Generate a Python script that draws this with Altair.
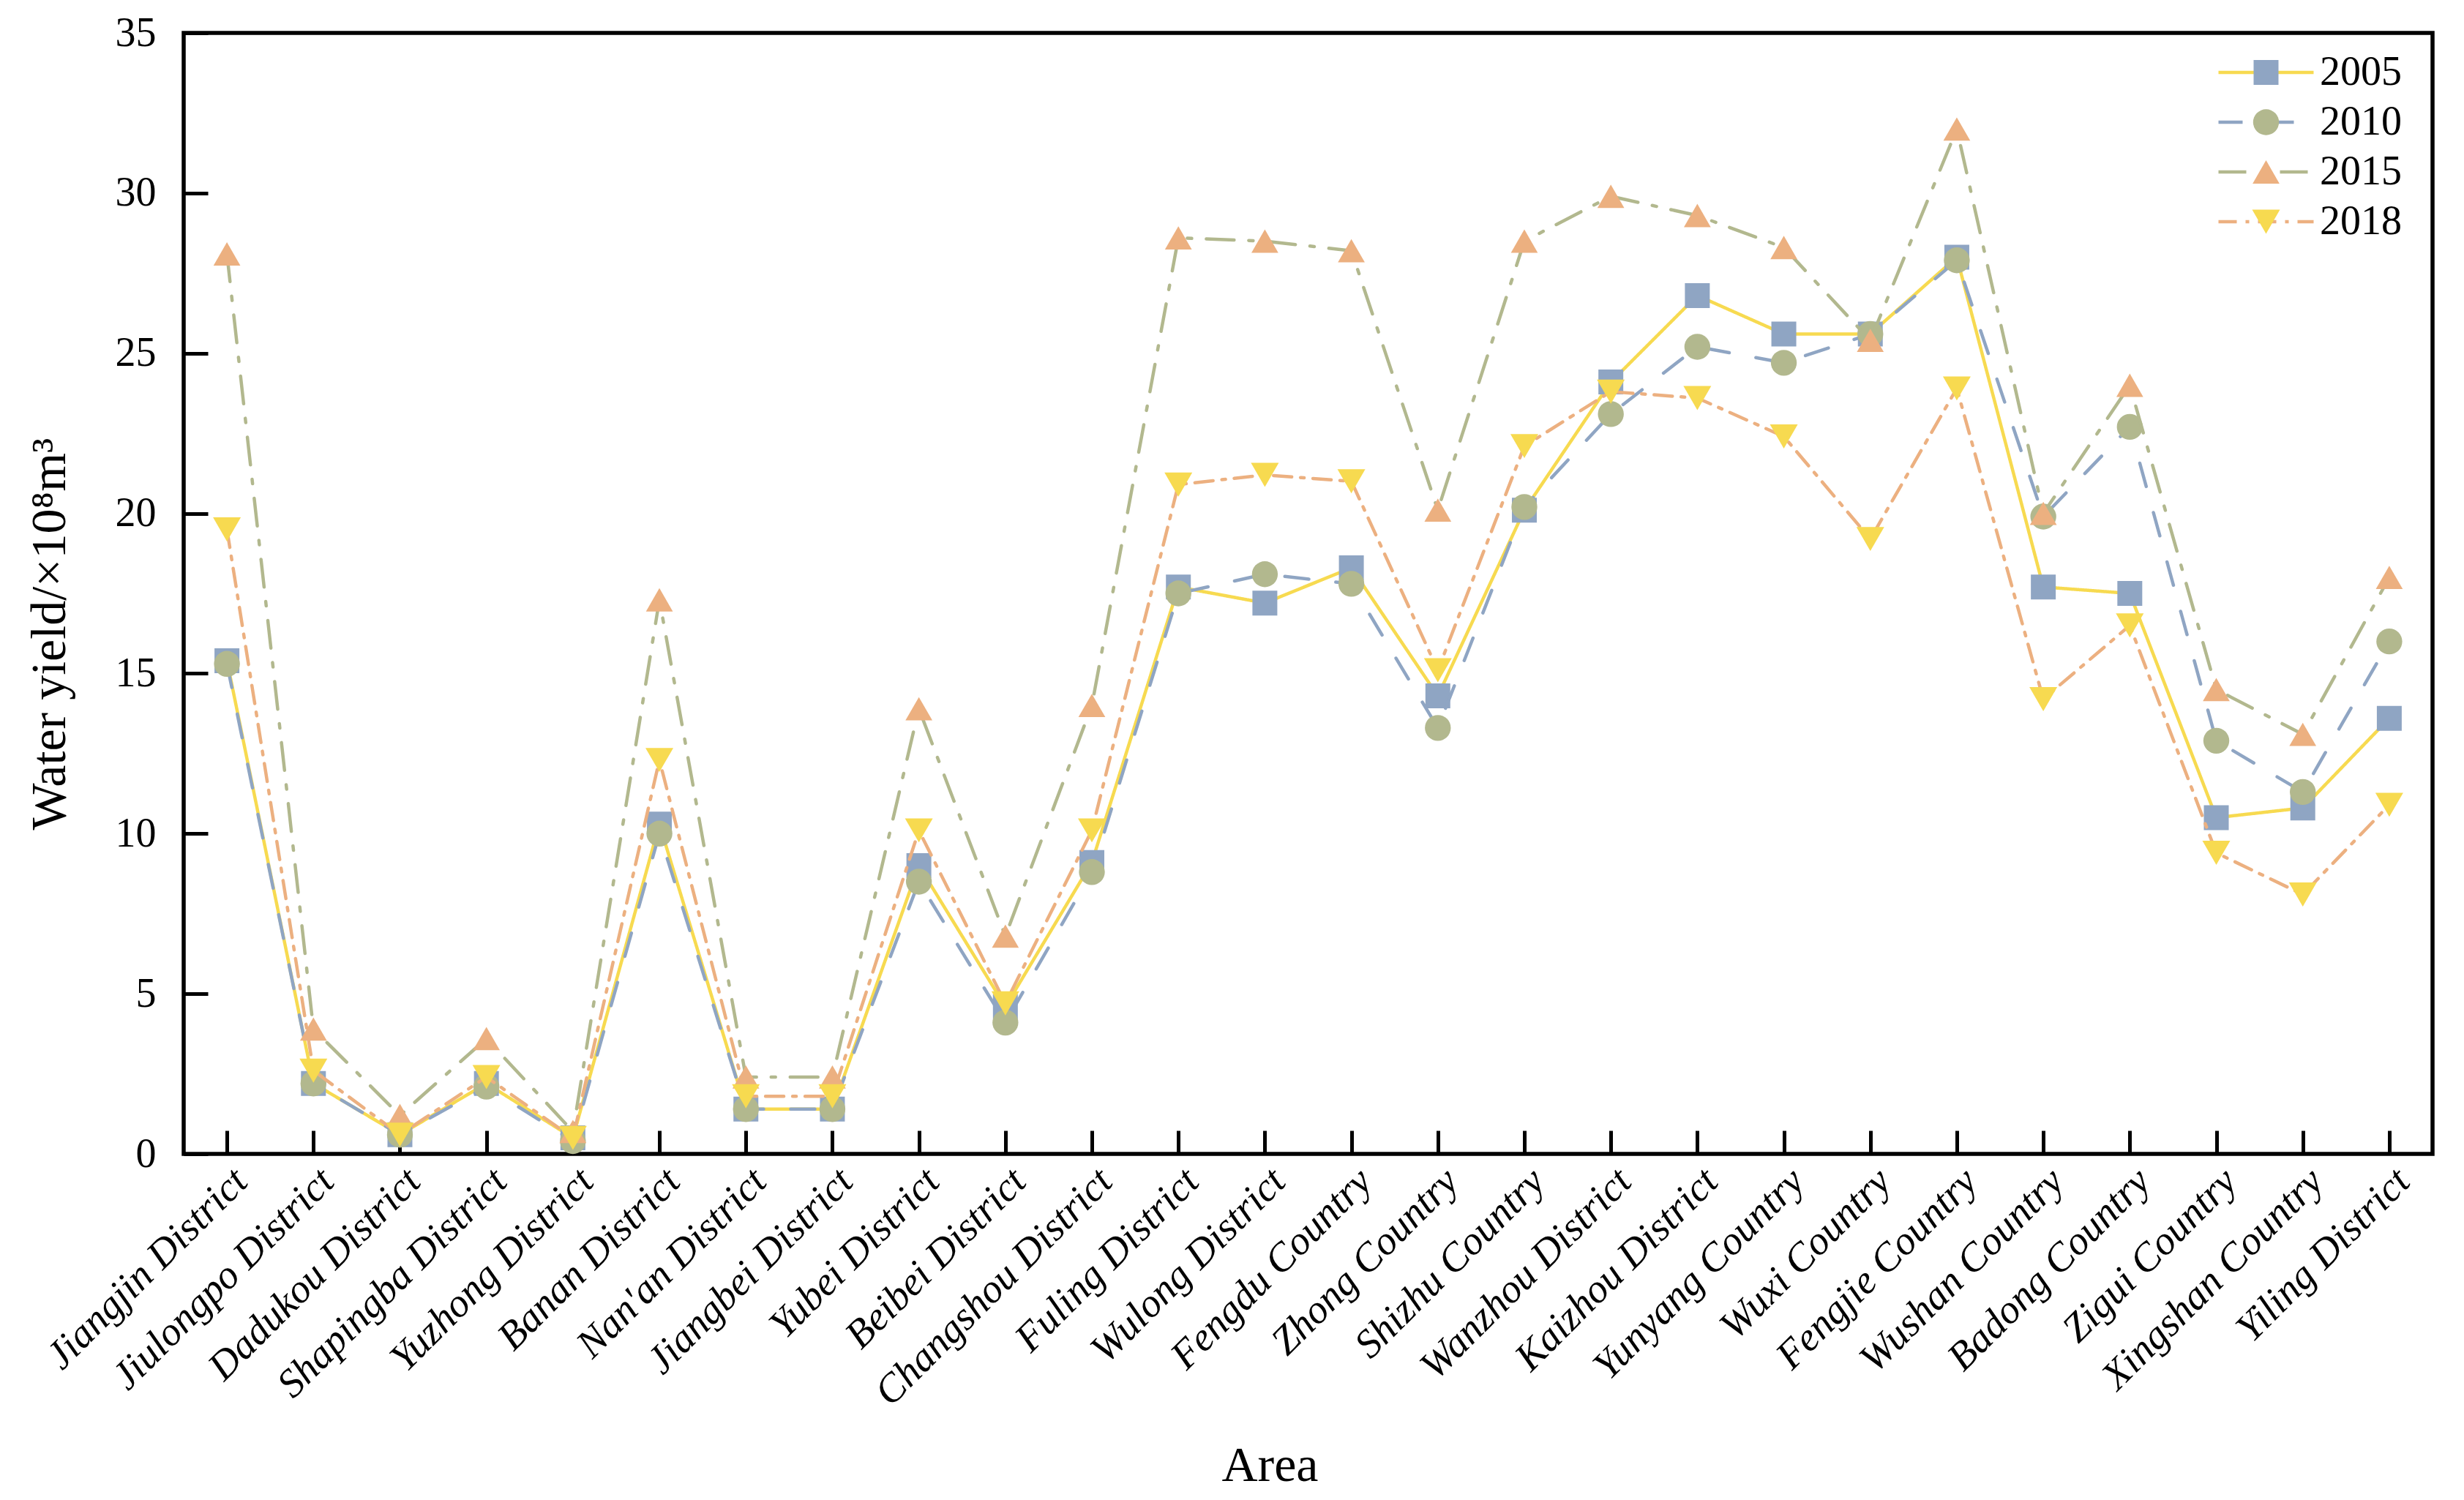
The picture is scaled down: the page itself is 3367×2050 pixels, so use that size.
import altair as alt
import pandas as pd

areas = ["Jiangjin District", "Jiulongpo District", "Dadukou District", "Shapingba District",
         "Yuzhong District", "Banan District", "Nan'an District", "Jiangbei District",
         "Yubei District", "Beibei District", "Changshou District", "Fuling District",
         "Wulong District", "Fengdu Country", "Zhong Country", "Shizhu Country",
         "Wanzhou District", "Kaizhou District", "Yunyang Country", "Wuxi Country",
         "Fengjie Country", "Wushan Country", "Badong Country", "Zigui Country",
         "Xingshan Country", "Yiling District"]
years = ["2005", "2010", "2015", "2018"]
v2005 = [15.4, 2.2, 0.6, 2.2, 0.5, 10.3, 1.4, 1.4, 9.0, 4.6, 9.1, 17.7, 17.2, 18.3, 14.3,
         20.1, 24.1, 26.8, 25.6, 25.6, 28.0, 17.7, 17.5, 10.5, 10.8, 13.6]
v2010 = [15.3, 2.2, 0.6, 2.1, 0.4, 10.0, 1.4, 1.4, 8.5, 4.1, 8.8, 17.5, 18.1, 17.8, 13.3,
         20.2, 23.1, 25.2, 24.7, 25.6, 27.9, 19.9, 22.7, 12.9, 11.3, 16.0]
v2015 = [28.1, 3.9, 1.2, 3.6, 0.7, 17.3, 2.4, 2.4, 13.9, 6.8, 14.0, 28.6, 28.5, 28.2, 20.1,
         28.5, 29.9, 29.3, 28.3, 25.4, 32.0, 20.0, 24.0, 14.5, 13.1, 18.0]
v2018 = [19.5, 2.6, 0.6, 2.4, 0.5, 12.3, 1.8, 1.8, 10.1, 4.7, 10.1, 20.9, 21.2, 21.0, 15.1,
         22.1, 23.8, 23.6, 22.4, 19.2, 23.9, 14.2, 16.5, 9.4, 8.1, 10.9]
y_ticks = [0, 5, 10, 15, 20, 25, 30, 35]

line_colors = ["#F7DA50", "#8FA5C3", "#B2B88E", "#ECB080"]
marker_colors = ["#8FA5C3", "#B2B88E", "#ECB080", "#F7DA50"]
shapes = ["square", "circle", "triangle-up", "triangle-down"]
marker_sizes = [1156, 1444, 2116, 2116]
dashes = [[1, 0], [33, 37], [38, 20, 6, 20], [25, 12, 5, 12]]
marker_keys = ["m" + y for y in years]

rows = []
for yr, vals in zip(years, [v2005, v2010, v2015, v2018]):
    for a, v in zip(areas, vals):
        rows.append({"Area": a, "Year": yr, "Marker": "m" + yr, "Value": v})
df = pd.DataFrame(rows)

FONT = "Liberation Serif"
W, H = 3073, 1532

x_enc = alt.X("Area:N", sort=areas,
              scale=alt.Scale(type="point", domain=areas, padding=0.5),
              axis=alt.Axis(title="Area", domain=False, grid=False, offset=-32,
                            tickSize=32, tickWidth=5, tickColor="black",
                            labelAngle=-45, labelAlign="right", labelBaseline="top",
                            labelFont=FONT, labelFontSize=55, labelFontStyle="italic",
                            labelColor="black", labelPadding=10,
                            labelOverlap=False, labelLimit=0,
                            titleFont=FONT, titleFontSize=68, titleFontWeight="normal",
                            titleColor="black", titleX=1484, titleY=478,
                            titleAlign="center", titleBaseline="alphabetic"))
y_enc = alt.Y("Value:Q",
              scale=alt.Scale(domain=[0, 35], nice=False, zero=True),
              axis=alt.Axis(title="Water yield/×10⁸m³", values=y_ticks, domain=False,
                            grid=False, offset=-33, tickSize=33, tickWidth=5,
                            tickColor="black", labelFont=FONT, labelFontSize=56,
                            labelColor="black", labelPadding=38, labelOverlap=False,
                            titleFont=FONT, titleFontSize=68, titleFontWeight="normal",
                            titleColor="black", titleAngle=270, titleX=-196, titleY=821,
                            titleAlign="center", titleBaseline="alphabetic"))

common_leg = dict(orient="none", legendX=2778, legendY=24, direction="vertical",
                  title=None, labelFont=FONT, labelFontSize=56, labelColor="black",
                  clipHeight=60, rowPadding=8, padding=0, labelOffset=6)
line_legend = alt.Legend(symbolType="stroke", symbolSize=16900, symbolStrokeWidth=4.5,
                         symbolOffset=0, **common_leg)
mk_legend = alt.Legend(symbolStrokeWidth=0, symbolOffset=39.5, labelExpr="' '",
                       **common_leg)

base = alt.Chart(df)
layers = []
for yr in years:
    ln = base.mark_line(strokeWidth=4.5, strokeCap="round", strokeJoin="round").encode(
        x=x_enc, y=y_enc,
        stroke=alt.Stroke("Year:N", scale=alt.Scale(domain=years, range=line_colors),
                          legend=line_legend),
        strokeDash=alt.StrokeDash("Year:N", scale=alt.Scale(domain=years, range=dashes),
                                  legend=line_legend),
    ).transform_filter(alt.datum.Year == yr)
    pt = base.mark_point(filled=True, opacity=1, strokeWidth=0).encode(
        x=x_enc, y=y_enc,
        fill=alt.Fill("Marker:N", scale=alt.Scale(domain=marker_keys, range=marker_colors),
                      legend=mk_legend),
        shape=alt.Shape("Marker:N", scale=alt.Scale(domain=marker_keys, range=shapes),
                        legend=mk_legend),
        size=alt.Size("Marker:N", scale=alt.Scale(domain=marker_keys, range=marker_sizes),
                      legend=mk_legend),
    ).transform_filter(alt.datum.Year == yr)
    layers += [ln, pt]

chart = alt.layer(*layers).properties(
    width=W, height=H,
    autosize=alt.AutoSizeParams(type="none"),
    padding={"left": 243, "top": 37, "right": 35, "bottom": 470},
    background="white",
).configure_view(stroke="black", strokeWidth=5.5)

chart.save("out.html", embed_options={"renderer": "svg", "actions": False})
